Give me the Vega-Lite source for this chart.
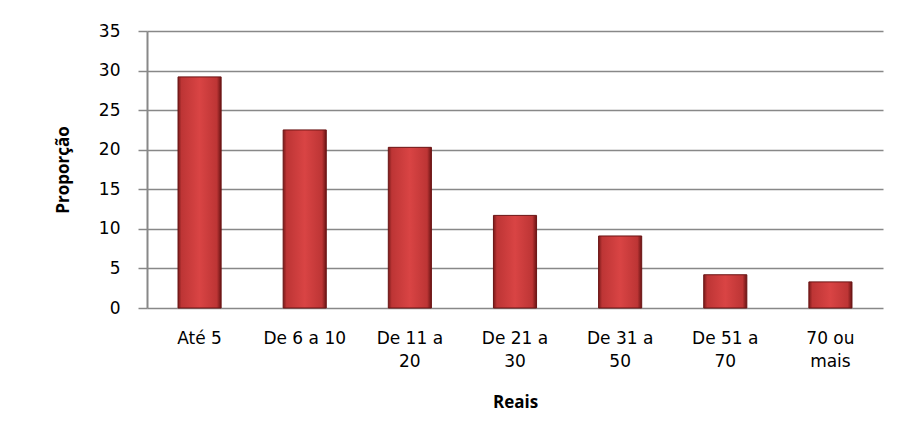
{
  "$schema": "https://vega.github.io/schema/vega-lite/v6.json",
  "width": 736,
  "height": 277,
  "autosize": {"type": "none"},
  "padding": {"left": 147, "top": 31, "right": 18, "bottom": 124},
  "background": "white",
  "data": {
    "values": [
      {"faixa": "Até 5", "proporcao": 29.2},
      {"faixa": "De 6 a 10", "proporcao": 22.5},
      {"faixa": "De 11 a 20", "proporcao": 20.3},
      {"faixa": "De 21 a 30", "proporcao": 11.7},
      {"faixa": "De 31 a 50", "proporcao": 9.1},
      {"faixa": "De 51 a 70", "proporcao": 4.2},
      {"faixa": "70 ou mais", "proporcao": 3.3}
    ]
  },
  "mark": {
    "type": "bar",
    "stroke": "#6b1414",
    "strokeWidth": 1,
    "fill": {
      "gradient": "linear",
      "x1": 0, "y1": 0, "x2": 1, "y2": 0,
      "stops": [
        {"offset": 0, "color": "#7a1a1a"},
        {"offset": 0.08, "color": "#bd3535"},
        {"offset": 0.5, "color": "#d94444"},
        {"offset": 0.9, "color": "#bd3535"},
        {"offset": 1, "color": "#6a1414"}
      ]
    }
  },
  "encoding": {
    "x": {
      "field": "faixa",
      "type": "nominal",
      "sort": null,
      "scale": {"paddingInner": 0.59, "paddingOuter": 0.295},
      "axis": {
        "title": "Reais",
        "labelAngle": 0,
        "ticks": false,
        "domain": false,
        "labelPadding": 22,
        "labelFont": "DejaVu Sans",
        "labelFontSize": 17,
        "labelColor": "#000000",
        "labelLineHeight": 23,
        "labelLimit": 200,
        "labelExpr": "indexof(datum.label, ' a ') < 0 && indexof(datum.label, ' ou ') < 0 || datum.label == 'De 6 a 10' ? datum.label : [slice(datum.label, 0, lastindexof(datum.label, ' ')), slice(datum.label, lastindexof(datum.label, ' ') + 1)]",
        "titleFont": "Open Sans",
        "titleFontWeight": "bold",
        "titleFontSize": 17,
        "titleColor": "#000000",
        "titlePadding": 25
      }
    },
    "y": {
      "field": "proporcao",
      "type": "quantitative",
      "scale": {"domain": [0, 35], "nice": false},
      "axis": {
        "title": "Proporção",
        "values": [0, 5, 10, 15, 20, 25, 30, 35],
        "grid": true,
        "gridColor": "#888888",
        "gridWidth": 1.5,
        "gridOpacity": 1,
        "domainColor": "#888888",
        "domainWidth": 2,
        "tickColor": "#888888",
        "tickSize": 9,
        "tickWidth": 1.5,
        "labelPadding": 18,
        "labelFont": "DejaVu Sans",
        "labelFontSize": 17,
        "labelColor": "#000000",
        "titleFont": "Open Sans",
        "titleFontWeight": "bold",
        "titleFontSize": 17,
        "titleColor": "#000000",
        "titlePadding": 26
      }
    }
  },
  "config": {
    "view": {"stroke": null}
  }
}
